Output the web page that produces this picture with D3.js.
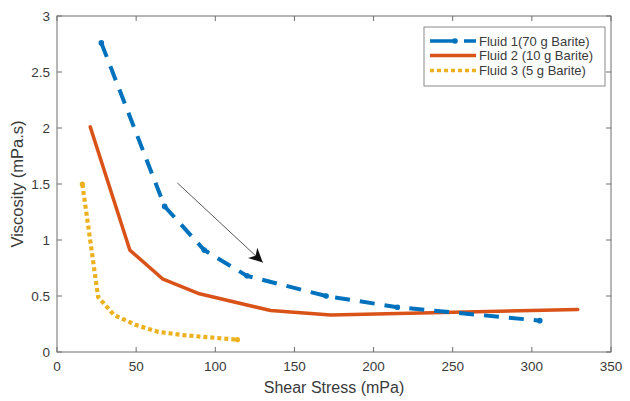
<!DOCTYPE html>
<html><head><meta charset="utf-8">
<script src="https://cdn.jsdelivr.net/npm/d3@7"></script>
<style>body{margin:0;background:#fff;} text{font-family:"Liberation Sans",Arial,sans-serif;}</style>
</head><body><svg id="c" width="630" height="401"></svg>
<script>
const xTicks = [0,50,100,150,200,250,300,350];
const yTicks = [0,0.5,1,1.5,2,2.5,3];
const fluid1X = [28, 68, 93, 120, 170, 215, 305];
const fluid1Y = [2.76, 1.30, 0.91, 0.68, 0.50, 0.40, 0.28];
const fluid2X = [21, 46, 67, 90, 135, 173, 329];
const fluid2Y = [2.01, 0.91, 0.65, 0.52, 0.37, 0.33, 0.38];
const fluid3X = [16, 26, 36, 50, 64, 80, 114];
const fluid3Y = [1.50, 0.49, 0.33, 0.24, 0.18, 0.15, 0.11];
const seriesNames = ["Fluid 1(70 g Barite)", "Fluid 2 (10 g Barite)", "Fluid 3 (5 g Barite)"];
const arrowFrom = [76, 1.51];
const arrowTo = [130, 0.80];

const svg = d3.select("#c");
const L=57, R=611, T=16, B=352;
const x = d3.scaleLinear().domain([0,350]).range([L,R]);
const y = d3.scaleLinear().domain([0,3]).range([B,T]);
const frame="#6e6e6e", txt="#3a3a3a";

svg.append("rect").attr("x",L).attr("y",T).attr("width",R-L).attr("height",B-T)
  .attr("fill","none").attr("stroke",frame).attr("stroke-width",1);
const tl=5;
xTicks.forEach(t=>{
  svg.append("line").attr("x1",x(t)).attr("x2",x(t)).attr("y1",B).attr("y2",B-tl).attr("stroke",frame);
  svg.append("line").attr("x1",x(t)).attr("x2",x(t)).attr("y1",T).attr("y2",T+tl).attr("stroke",frame);
  svg.append("text").attr("x",x(t)).attr("y",B+19).attr("text-anchor","middle")
    .attr("font-size",13.5).attr("fill",txt).text(t);
});
yTicks.forEach(t=>{
  svg.append("line").attr("x1",L).attr("x2",L+tl).attr("y1",y(t)).attr("y2",y(t)).attr("stroke",frame);
  svg.append("line").attr("x1",R).attr("x2",R-tl).attr("y1",y(t)).attr("y2",y(t)).attr("stroke",frame);
  svg.append("text").attr("x",L-7).attr("y",y(t)+5).attr("text-anchor","end")
    .attr("font-size",13.5).attr("fill",txt).text(t);
});
svg.append("text").attr("x",(L+R)/2).attr("y",393).attr("text-anchor","middle")
  .attr("font-size",16).attr("fill",txt).text("Shear Stress (mPa)");
svg.append("text").attr("transform",`translate(23,${(T+B)/2}) rotate(-90)`).attr("text-anchor","middle")
  .attr("font-size",16.5).attr("fill",txt).text("Viscosity (mPa.s)");

const line = d3.line().x(d=>x(d[0])).y(d=>y(d[1]));
const zip=(a,b)=>a.map((v,i)=>[v,b[i]]);
const blue="#0072BD", red="#D95319", yellow="#EDB120";

svg.append("path").datum(zip(fluid2X,fluid2Y)).attr("d",line).attr("fill","none")
  .attr("stroke",red).attr("stroke-width",3.5).attr("stroke-linejoin","round").attr("stroke-linecap","round");
svg.append("path").datum(zip(fluid3X,fluid3Y)).attr("d",line).attr("fill","none")
  .attr("stroke",yellow).attr("stroke-width",4.2).attr("stroke-dasharray","4,3");
svg.selectAll(".m3").data(zip(fluid3X,fluid3Y).filter((d,i)=>i==0||i==fluid3X.length-1)).enter().append("circle")
  .attr("cx",d=>x(d[0])).attr("cy",d=>y(d[1])).attr("r",2.6).attr("fill",yellow);
svg.append("path").datum(zip(fluid1X,fluid1Y)).attr("d",line).attr("fill","none")
  .attr("stroke",blue).attr("stroke-width",4).attr("stroke-dasharray","15,10");
svg.selectAll(".m1").data(zip(fluid1X,fluid1Y)).enter().append("circle")
  .attr("cx",d=>x(d[0])).attr("cy",d=>y(d[1])).attr("r",2.8).attr("fill",blue);

svg.append("defs").append("marker").attr("id","ah").attr("viewBox","0 0 10 10").attr("refX",10).attr("refY",5)
  .attr("markerWidth",14).attr("markerHeight",14).attr("markerUnits","userSpaceOnUse").attr("orient","auto")
  .append("path").attr("d","M0,0 L10,5 L0,10 L3,5 Z").attr("fill","#111");
svg.append("line").attr("x1",x(arrowFrom[0])).attr("y1",y(arrowFrom[1]))
  .attr("x2",x(arrowTo[0])).attr("y2",y(arrowTo[1])).attr("stroke","#444").attr("stroke-width",0.9)
  .attr("marker-end","url(#ah)");

const lg=svg.append("g");
lg.append("rect").attr("x",424).attr("y",27).attr("width",181).attr("height",59)
  .attr("fill","#fff").attr("stroke","#8a8a8a");
const rows=[41,55.5,70.5];
seriesNames.forEach((n,i)=>{
  const yy=rows[i];
  if(i==0){
    lg.append("line").attr("x1",430).attr("x2",457).attr("y1",yy).attr("y2",yy).attr("stroke",blue).attr("stroke-width",3.5);
    lg.append("line").attr("x1",464).attr("x2",476).attr("y1",yy).attr("y2",yy).attr("stroke",blue).attr("stroke-width",3.5);
    lg.append("circle").attr("cx",455).attr("cy",yy).attr("r",2.8).attr("fill",blue);
  } else if(i==1){
    lg.append("line").attr("x1",430).attr("x2",476).attr("y1",yy).attr("y2",yy).attr("stroke",red).attr("stroke-width",3.5);
  } else {
    lg.append("line").attr("x1",430).attr("x2",476).attr("y1",yy).attr("y2",yy).attr("stroke",yellow).attr("stroke-width",3.5).attr("stroke-dasharray","4,3");
  }
  lg.append("text").attr("x",479).attr("y",yy+4.5).attr("font-size",13).attr("fill",txt).text(n);
});
</script></body></html>
